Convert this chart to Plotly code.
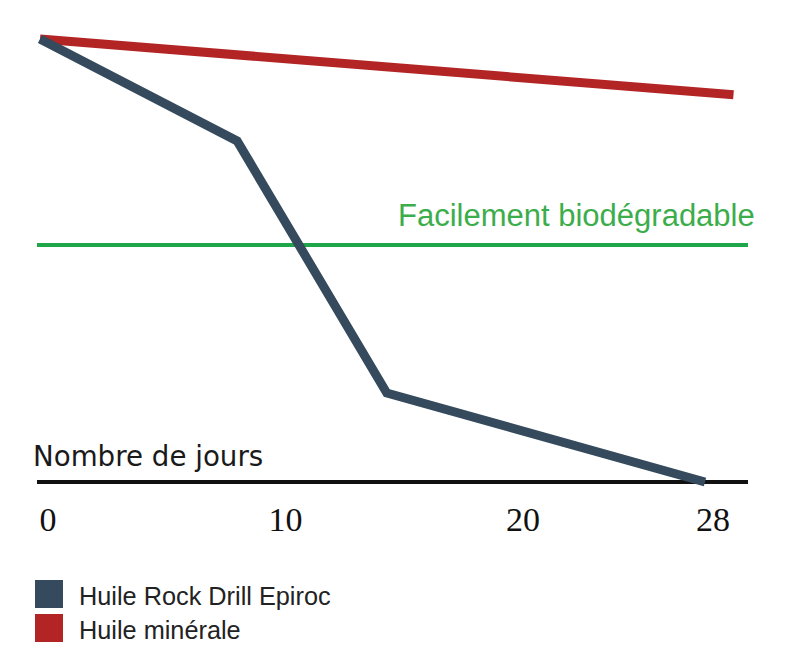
import plotly.graph_objects as go

# ---- data ----
days_epiroc = [0, 8.3, 14.6, 28]
remaining_epiroc = [100, 77.0, 20.1, 0]
days_mineral = [0, 29.2]
remaining_mineral = [100, 87.4]
threshold = 53.5
tick_vals = [0, 10, 20, 28]
tick_text = ["0", "10", "20", "28"]
series_names = ["Huile Rock Drill Epiroc", "Huile minérale"]
series_colors = ["#354a5c", "#b32525"]
threshold_label = "Facilement biodégradable"
xaxis_label = "Nombre de jours"

W, H = 793, 666
plot_left, plot_right = 37, 748
y0_px, y100_px = 482, 39
ppu = (y0_px - y100_px) / 100.0
top_px, bottom_px = 20, 495
ymin = -(bottom_px - y0_px) / ppu
ymax = (y0_px - top_px) / ppu
x0_px = 40
ppd = (705 - x0_px) / 28.0
xmin = (plot_left - x0_px) / ppd
xmax = xmin + (plot_right - plot_left) / ppd


def px_x(px):
    return (px - plot_left) / (plot_right - plot_left)


def px_y(py):
    return (bottom_px - py) / (bottom_px - top_px)


fig = go.Figure()
fig.add_trace(go.Scatter(x=days_mineral, y=remaining_mineral, mode="lines",
                         line=dict(color=series_colors[1], width=9),
                         name=series_names[1], showlegend=False, hoverinfo="skip"))
fig.add_trace(go.Scatter(x=days_epiroc, y=remaining_epiroc, mode="lines",
                         line=dict(color=series_colors[0], width=9),
                         name=series_names[0], showlegend=False, hoverinfo="skip"))

fig.add_shape(type="line", xref="paper", yref="y", x0=0, x1=1, y0=threshold, y1=threshold,
              line=dict(color="#1fa64b", width=4), layer="below")

annotations = [
    dict(text=threshold_label, x=px_x(396), y=px_y(215), xanchor="left", yanchor="middle",
         font=dict(family="Liberation Sans, Arial", size=31, color="#3cad4b")),
    dict(text=xaxis_label, x=px_x(31), y=px_y(456), xanchor="left", yanchor="middle",
         font=dict(family="DejaVu Sans", size=27.7, color="#1a1a1a")),
]
legend_y = [594, 628]
for name, color, ly in zip(series_names, series_colors, legend_y):
    fig.add_shape(type="rect", xref="paper", yref="paper",
                  x0=px_x(35), x1=px_x(63), y0=px_y(ly - 14), y1=px_y(ly + 14),
                  fillcolor=color, line=dict(width=0))
    annotations.append(dict(text=name, x=px_x(77), y=px_y(ly + 2), xanchor="left", yanchor="middle",
                            font=dict(family="Liberation Sans, Arial", size=25.3, color="#222222")))
for a in annotations:
    a.update(xref="paper", yref="paper", showarrow=False)

fig.update_layout(
    width=W, height=H,
    margin=dict(l=plot_left, r=W - plot_right, t=top_px, b=H - bottom_px, pad=0),
    paper_bgcolor="white", plot_bgcolor="white",
    annotations=annotations,
    xaxis=dict(range=[xmin, xmax], tickvals=tick_vals, ticktext=tick_text,
               showgrid=False, zeroline=False, showline=False, ticks="",
               ticklabelshift=8, ticklabelstandoff=1,
               tickfont=dict(family="Liberation Serif, Times New Roman", size=34, color="#111111")),
    yaxis=dict(range=[ymin, ymax], showgrid=False, showticklabels=False, ticks="",
               zeroline=True, zerolinecolor="#111111", zerolinewidth=4, showline=False),
    showlegend=False,
)

fig.write_html("out.html", config={"displayModeBar": False},
               post_script="document.body.style.margin='0';")
